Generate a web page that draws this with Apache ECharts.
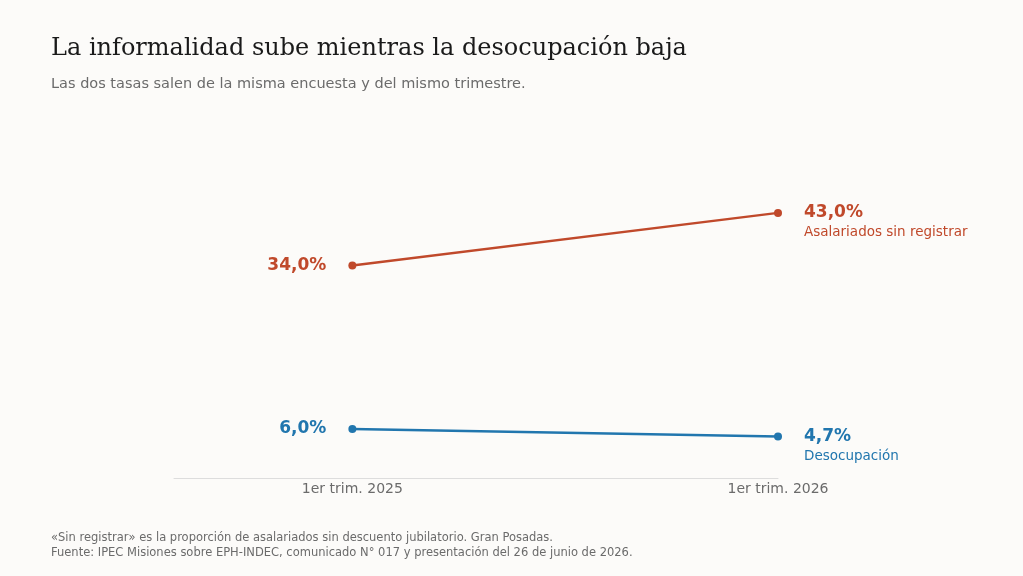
<!DOCTYPE html>
<html><head><meta charset="utf-8">
<script src="https://cdn.jsdelivr.net/npm/echarts@6/dist/echarts.min.js"></script>
<style>html,body{margin:0;background:#fcfbf9}#c{width:1023px;height:576px}</style>
</head><body><div id="c"></div>
<script>
const categories = ['1er trim. 2025', '1er trim. 2026'];
const informal = [34.0, 43.0];
const desocupacion = [6.0, 4.7];
const names = ['Asalariados sin registrar', 'Desocupación'];
const colors = ['#c0492b', '#2176ae'];
const fmt = v => v.toFixed(1).replace('.', ',') + '%';
const F = 'DejaVu Sans';

function mk(vals, name, color) {
  return {
    type: 'line', symbol: 'circle', symbolSize: 8,
    lineStyle: { color, width: 2.5 }, itemStyle: { color },
    data: vals.map((v, i) => ({
      value: [i, v],
      label: i === 0 ? {
        show: true, position: 'left', distance: 22,
        formatter: fmt(v), color, fontSize: 17, fontWeight: 'bold', fontFamily: F
      } : {
        show: true, position: 'right', distance: 22, align: 'left',
        formatter: '{v|' + fmt(v) + '}\n{n|' + name + '}',
        rich: {
          v: { color, fontSize: 17, fontWeight: 'bold', fontFamily: F, lineHeight: 22 },
          n: { color, fontSize: 13.5, fontFamily: F, lineHeight: 18 }
        },
        padding: [18, 0, 0, 0]
      }
    }))
  };
}

echarts.init(document.getElementById('c')).setOption({
  backgroundColor: '#fcfbf9',
  animation: false,
  title: [
    { text: 'La informalidad sube mientras la desocupación baja', left: 46, top: 32,
      textStyle: { fontFamily: 'DejaVu Serif', fontWeight: 'normal', fontSize: 24, color: '#1a1a1a' } },
    { text: 'Las dos tasas salen de la misma encuesta y del mismo trimestre.', left: 46, top: 72,
      textStyle: { fontFamily: F, fontWeight: 'normal', fontSize: 14.5, color: '#6b6b6b' } },
    { text: '«Sin registrar» es la proporción de asalariados sin descuento jubilatorio. Gran Posadas.\nFuente: IPEC Misiones sobre EPH-INDEC, comunicado N° 017 y presentación del 26 de junio de 2026.',
      left: 46, top: 526,
      textStyle: { fontFamily: F, fontWeight: 'normal', fontSize: 11.5, lineHeight: 15, color: '#6b6b6b' } }
  ],
  grid: { left: 174, right: 245, top: 172, bottom: 98 },
  xAxis: {
    type: 'value', min: -0.419, max: 1,
    axisLine: { show: true, onZero: false, lineStyle: { color: '#dddddd' } },
    axisTick: { show: false }, splitLine: { show: false },
    axisLabel: { customValues: [0, 1], formatter: v => categories[Math.round(v)] || '',
      color: '#6b6b6b', fontSize: 14, fontFamily: F, margin: 4 }
  },
  yAxis: { type: 'value', min: -2.4, max: 50, show: false },
  series: [mk(informal, names[0], colors[0]), mk(desocupacion, names[1], colors[1])]
});
</script></body></html>
